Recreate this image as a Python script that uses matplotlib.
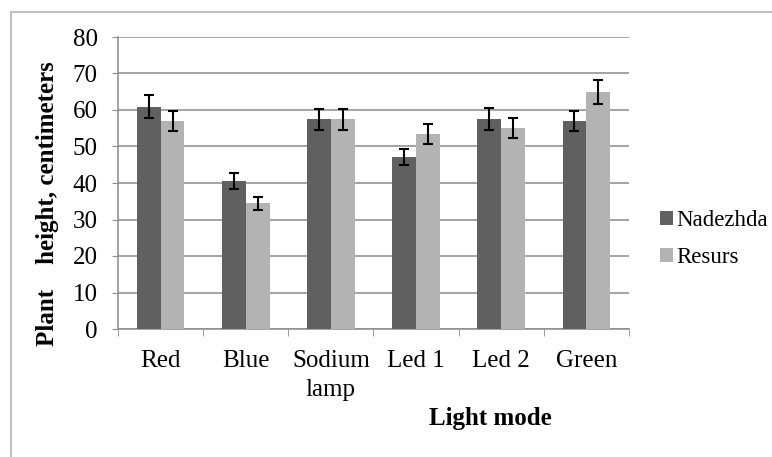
import matplotlib.pyplot as plt
import matplotlib.patches as mpatches
import numpy as np

plt.rcParams['font.family'] = ['Liberation Serif', 'DejaVu Serif']

# Data
categories = ['Red', 'Blue', 'Sodium\nlamp', 'Led 1', 'Led 2', 'Green']
nadezhda = [60.9, 40.5, 57.5, 47.0, 57.5, 57.0]
nadezhda_err = [3.1, 2.2, 2.9, 2.2, 3.0, 2.8]
resurs = [57.0, 34.4, 57.5, 53.4, 55.0, 64.9]
resurs_err = [2.8, 1.7, 2.9, 2.7, 2.8, 3.2]

W, H = 772, 457
fig = plt.figure(figsize=(W / 100, H / 100), dpi=100)

# light grey outer frame (right/bottom edges lie outside the image)
fig.patches.append(mpatches.Rectangle((11 / W, -0.1), 1.2, (H - 12) / H + 0.1,
                                      transform=fig.transFigure, fill=False,
                                      edgecolor='#bfbfbf', linewidth=1.5))

ax = fig.add_axes([118 / W, (H - 329) / H, (629 - 118) / W, (329 - 37) / H])

x = np.arange(len(categories))
bw = 0.28
err_kw = dict(ecolor='black', elinewidth=1.5, capsize=3.3, capthick=1.5)
ax.bar(x - bw / 2, nadezhda, bw, yerr=nadezhda_err, color='#606060',
       label='Nadezhda', error_kw=err_kw, zorder=3)
ax.bar(x + bw / 2, resurs, bw, yerr=resurs_err, color='#b3b3b3',
       label='Resurs', error_kw=err_kw, zorder=3)

ax.set_xlim(-0.5, len(categories) - 0.5)
ax.set_ylim(0, 80)
ax.set_yticks(np.arange(0, 81, 10))
ax.yaxis.grid(True, color='#8c8c8c', linewidth=1.1, zorder=0)
ax.set_axisbelow(True)

ax.set_xticks(x)
ax.set_xticklabels(categories, fontsize=18, linespacing=1.45)
ax.set_xticks(np.arange(-0.5, len(categories), 1), minor=True)
ax.tick_params(axis='x', which='major', length=0, pad=15)
ax.tick_params(axis='x', which='minor', length=5, color='#8c8c8c', direction='out')
ax.tick_params(axis='y', length=4.5, color='#8c8c8c', labelsize=18, pad=10)

for s in ['top', 'right']:
    ax.spines[s].set_visible(False)
ax.spines['left'].set_color('#8c8c8c')
ax.spines['bottom'].set_color('#8c8c8c')
ax.spines['left'].set_linewidth(1.1)
ax.spines['bottom'].set_linewidth(1.1)

fig.text(48 / W, 1 - 204 / H, 'Plant    height, centimeters', rotation=90,
         ha='center', va='center', fontsize=18, fontweight='bold')
fig.text(490 / W, 1 - 418 / H, 'Light mode', ha='center', va='center',
         fontsize=18, fontweight='bold')

fig.legend(loc='center left', bbox_to_anchor=(660 / W, 1 - 239 / H),
           frameon=False, fontsize=16.5, handlelength=0.55, handleheight=0.55,
           handletextpad=0.15, labelspacing=0.7, borderaxespad=0, borderpad=0)

fig.savefig('out.png', dpi=100)
